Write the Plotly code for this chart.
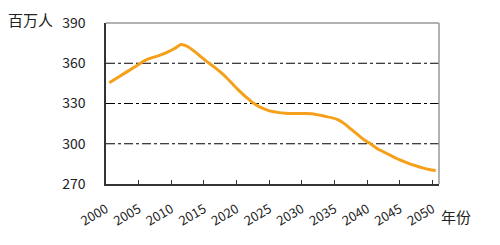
import plotly.graph_objects as go

years = list(range(2000, 2051))
population = [345.5, 348.5, 351.5, 354.5, 357.5, 360.8, 363.2, 364.8, 366.5, 368.5,
              371.0, 374.0, 372.5, 369.0, 365.0, 361.0, 357.5, 353.5, 349.0, 344.0,
              339.0, 334.5, 330.5, 327.5, 325.5, 324.0, 323.2, 322.8, 322.5, 322.5,
              322.5, 322.4, 321.5, 320.5, 319.5, 318.0, 315.0, 311.0, 307.0, 303.0,
              300.0, 296.5, 294.0, 291.5, 289.0, 287.0, 285.0, 283.5, 282.0, 280.8,
              280.0]
tick_labels = ["2000", "2005", "2010", "2015", "2020", "2025", "2030", "2035", "2040", "2045", "2050"]
y_ticks = [270, 300, 330, 360, 390]

font_family = "Noto Sans CJK SC, DejaVu Sans, sans-serif"

fig = go.Figure()
fig.add_trace(go.Scatter(x=years, y=population, mode="lines",
                         line=dict(color="#F5A01A", width=3, shape="spline", smoothing=0.6),
                         hoverinfo="skip", showlegend=False))

# dash-dot gridlines
for v in [300, 330, 360]:
    fig.add_shape(type="line", xref="x", yref="y", x0=1999.5, x1=2050.5, y0=v, y1=v,
                  line=dict(color="black", width=1, dash="dashdot"), layer="below")

fig.update_layout(
    width=500, height=245,
    margin=dict(l=106, r=61, t=17, b=61),
    paper_bgcolor="white", plot_bgcolor="white",
    font=dict(family=font_family, color="#222", size=13),
    xaxis=dict(range=[1999.5, 2050.5], tickvals=[int(t) - 0.5 for t in tick_labels],
               ticktext=tick_labels, tickangle=-30, ticks="inside", ticklen=4,
               tickcolor="#333", showgrid=False, zeroline=False,
               showline=True, linecolor="#333", linewidth=1.5, mirror=False,
               ticklabelstandoff=11, tickfont=dict(size=13)),
    yaxis=dict(range=[270, 390], tickvals=y_ticks, ticks="", showgrid=False,
               zeroline=False, showline=True, linecolor="#333", linewidth=1.5,
               ticklabelstandoff=16, tickfont=dict(size=14)),
)
# gray top and right border
fig.add_shape(type="line", xref="paper", yref="paper", x0=0, x1=1, y0=1, y1=1,
              line=dict(color="#999", width=1.5))
fig.add_shape(type="line", xref="paper", yref="paper", x0=1, x1=1, y0=0, y1=1,
              line=dict(color="#999", width=1.5))

fig.add_annotation(text="百万人", xref="paper", yref="paper", x=-0.153, y=1.02,
                   xanchor="right", yanchor="middle", showarrow=False,
                   font=dict(size=15, family=font_family))
fig.add_annotation(text="年份", xref="paper", yref="paper", x=1.0, y=-0.2,
                   xanchor="left", yanchor="middle", showarrow=False,
                   font=dict(size=15, family=font_family))

fig.write_html("out.html")
